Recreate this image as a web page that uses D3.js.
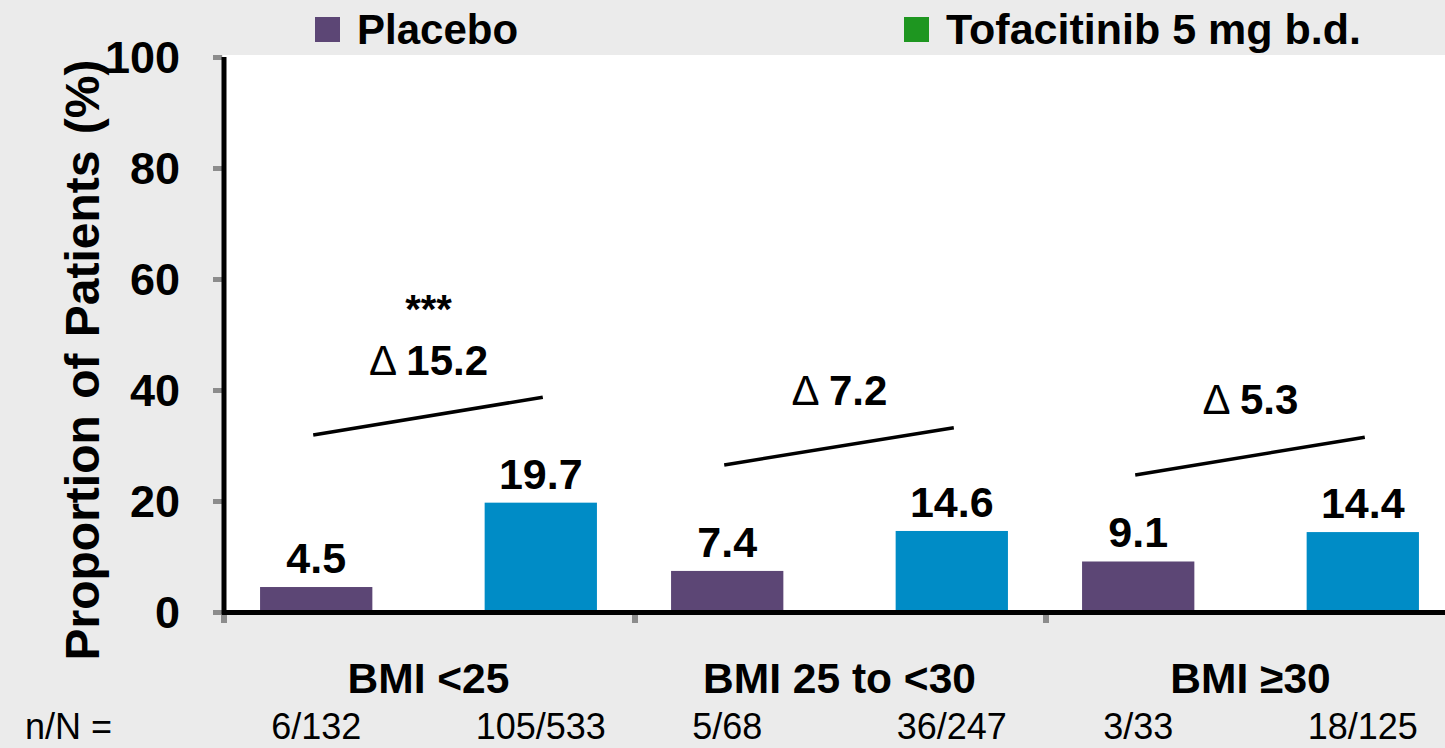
<!DOCTYPE html>
<html><head><meta charset="utf-8">
<script src="https://cdn.jsdelivr.net/npm/d3@7"></script>
<style>
html,body{margin:0;padding:0;background:#ebebeb;}
svg{display:block;font-family:"Liberation Sans",Arial,sans-serif;}
</style></head>
<body>
<svg id="c" width="1445" height="748"></svg>
<script>
const categories = ["BMI <25", "BMI 25 to <30", "BMI \u226530"];
const seriesNames = ["Placebo", "Tofacitinib 5 mg b.d."];
const placebo = [4.5, 7.4, 9.1];
const tofacitinib = [19.7, 14.6, 14.4];
const nN_placebo = ["6/132", "5/68", "3/33"];
const nN_tofa = ["105/533", "36/247", "18/125"];
const deltas = ["15.2", "7.2", "5.3"];
const significance = ["***", "", ""];
const deltaLineStart = [31.9, 26.5, 24.7];
const deltaLineEnd = [38.7, 33.2, 31.5];
const deltaTextY = [42.7, 37.3, 35.7];
const sigTextY = [52.1, null, null];
const yTicks = [0, 20, 40, 60, 80, 100];

const barColors = ["#5c4675", "#008cc6"];
const legendColors = ["#5c4675", "#1e9620"];

(function () {
const svg = d3.select("#c");
const W = 1445, H = 748;
const mLeft = 223, mTop = 57, mBottom = 612;

const y = d3.scaleLinear().domain([0, 100]).range([mBottom, mTop]);
const x = d3.scaleBand().domain(categories).range([mLeft, mLeft + 411 * 3]).padding(0);
const xi = d3.scaleBand().domain(seriesNames).range([0, x.bandwidth()]).paddingInner(0.5).paddingOuter(0.165);

// plot area
svg.append("rect").attr("x", mLeft).attr("y", 55).attr("width", W - mLeft).attr("height", mBottom - 55).attr("fill", "#ffffff");

// bars
const data = categories.map((c, i) => ({c, vals: [placebo[i], tofacitinib[i]]}));
const g = svg.append("g");
data.forEach((d, i) => {
  d.vals.forEach((v, j) => {
    const bx = x(d.c) + xi(seriesNames[j]);
    g.append("rect").attr("x", bx).attr("y", y(v)).attr("width", xi.bandwidth()).attr("height", y(0) - y(v)).attr("fill", barColors[j]);
    g.append("text").attr("x", bx + xi.bandwidth() / 2).attr("y", y(v) - 14)
      .attr("text-anchor", "middle").attr("font-size", 43).attr("font-weight", "bold").attr("fill", "#000").text(v.toFixed(1));
  });
  const c0 = x(d.c) + xi(seriesNames[0]) + xi.bandwidth() / 2;
  const c1 = x(d.c) + xi(seriesNames[1]) + xi.bandwidth() / 2;
  g.append("line").attr("x1", c0 - 3).attr("x2", c1 + 2).attr("y1", y(deltaLineStart[i])).attr("y2", y(deltaLineEnd[i]))
    .attr("stroke", "#000").attr("stroke-width", 3.5);
  const cx = x(d.c) + x.bandwidth() / 2;
  const t = g.append("text").attr("x", cx).attr("y", y(deltaTextY[i])).attr("text-anchor", "middle").attr("font-size", 42).attr("fill", "#000");
  t.append("tspan").attr("font-weight", "normal").text("\u0394 ");
  t.append("tspan").attr("font-weight", "bold").text(deltas[i]);
  if (significance[i]) {
    g.append("text").attr("x", cx).attr("y", y(sigTextY[i])).attr("text-anchor", "middle").attr("font-size", 40).attr("font-weight", "bold").text(significance[i]);
  }
  svg.append("text").attr("x", cx).attr("y", 693).attr("text-anchor", "middle").attr("font-size", 42.5).attr("font-weight", "bold").text(d.c);
  [nN_placebo[i], nN_tofa[i]].forEach((s, j) => {
    svg.append("text").attr("x", x(d.c) + xi(seriesNames[j]) + xi.bandwidth() / 2).attr("y", 739)
      .attr("text-anchor", "middle").attr("font-size", 36).text(s);
  });
});
svg.append("text").attr("x", 25).attr("y", 739).attr("font-size", 36).text("n/N =");

// y axis
const yAxis = d3.axisLeft(y).tickValues(yTicks).tickSize(0).tickPadding(0);
const ya = svg.append("g").attr("transform", `translate(${mLeft},0)`).call(yAxis);
ya.select(".domain").remove();
ya.selectAll("text").attr("x", -43).attr("dy", "0.35em").attr("font-size", 45).attr("font-weight", "bold").attr("fill", "#000").attr("font-family", "Liberation Sans, Arial, sans-serif");
ya.selectAll(".tick").append("rect").attr("x", -10).attr("y", -2.5).attr("width", 9).attr("height", 5).attr("fill", "#8c8c8c");

// bottom ticks (category boundaries)
const bounds = categories.map(c => x(c));
svg.selectAll(".btick").data(bounds).join("rect").attr("class", "btick").attr("x", d => d - 2).attr("y", 613).attr("width", 6).attr("height", 10).attr("fill", "#8c8c8c");

// axis lines
svg.append("line").attr("x1", mLeft + 1).attr("x2", mLeft + 1).attr("y1", mTop).attr("y2", mBottom + 2.5).attr("stroke", "#000").attr("stroke-width", 5);
svg.append("line").attr("x1", mLeft - 1).attr("x2", W).attr("y1", mBottom + 0.5).attr("y2", mBottom + 0.5).attr("stroke", "#000").attr("stroke-width", 5);

// axis title
svg.append("text").attr("transform", `translate(99,${(60 + 660) / 2}) rotate(-90)`).attr("text-anchor", "middle")
  .attr("font-size", 48).attr("font-weight", "bold").attr("word-spacing", 3).text("Proportion of Patients (%)");

// legend
const legX = [315, 904];
seriesNames.forEach((s, j) => {
  svg.append("rect").attr("x", legX[j]).attr("y", 17).attr("width", 25).attr("height", 25).attr("fill", legendColors[j]);
  svg.append("text").attr("x", legX[j] + 42).attr("y", 44).attr("font-size", j === 0 ? 42 : 43).attr("font-weight", "bold").text(s);
});
})();
</script>
</body></html>
